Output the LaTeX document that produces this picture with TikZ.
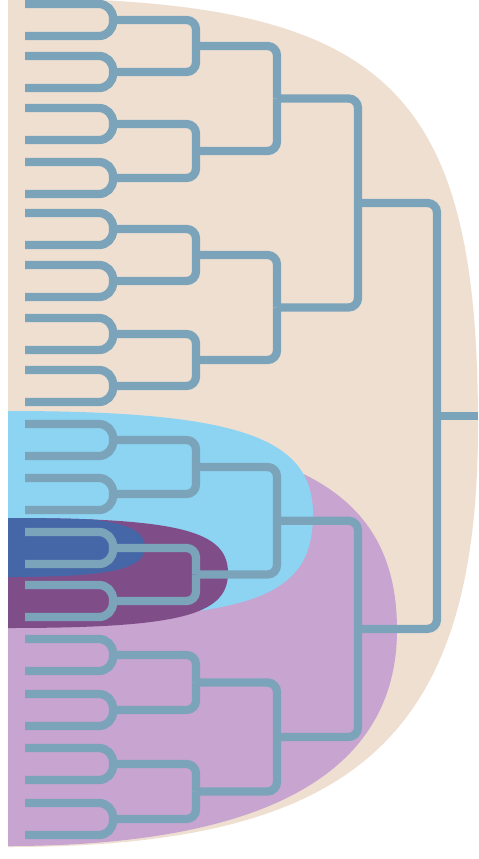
\documentclass[tikz,border=0pt]{standalone}
\usetikzlibrary{calc}
\definecolor{sand}{RGB}{239,223,209}
\definecolor{sky}{RGB}{141,212,242}
\definecolor{mauve}{RGB}{200,164,208}
\definecolor{plum}{RGB}{127,78,137}
\definecolor{deepblue}{RGB}{70,103,167}
\definecolor{stem}{RGB}{123,164,186}

\begin{document}
\begin{tikzpicture}[x=0.02cm, y=-0.02cm,
                    twig/.style={stem, line width=4.7pt, rounded corners=8pt},
                    branch/.style={stem, line width=4.7pt, rounded corners=5.4pt}]
  \useasboundingbox (0,0) rectangle (478,859);
  \clip (0,0) rectangle (478,859);
  \fill[white] (0,0) rectangle (478,859);

  % coloured groups behind the tree, largest first
  \fill[sand] (8,-2) .. controls (384,-2) and (478,83) .. (478,425)
              .. controls (478,737) and (356,847) .. (8,847) -- cycle;
  \fill[mauve] (8,430) .. controls (288,430) and (397,486) .. (397,630)
               .. controls (397,773) and (265,846) .. (8,846) -- cycle;
  \fill[sky] (8,411) .. controls (237,411) and (313,437) .. (313,514)
             .. controls (313,599) and (252,620) .. (8,620) -- cycle;
  \fill[plum] (8,518) .. controls (180,518) and (228,531) .. (228,573)
              .. controls (228,615) and (180,628) .. (8,628) -- cycle;
  \begin{scope}
    \clip (8,518) .. controls (180,518) and (228,531) .. (228,573)
          .. controls (228,615) and (180,628) .. (8,628) -- cycle;
    \fill[deepblue] (8,516) .. controls (111,516) and (145,525) .. (145,547)
                    .. controls (145,569) and (111,577) .. (8,577) -- cycle;
  \end{scope}

  % leaves, joined in pairs
  \foreach \t [count=\i] in {4,56,108,162,213,265,318,370,424,478,532,585,639,694,748,803} {
    \pgfmathtruncatemacro\j{2*\i-1}
    \pgfmathtruncatemacro\k{2*\i}
    \coordinate (l\j) at (25,\t);
    \coordinate (l\k) at (25,\t+32);
    \coordinate (a\i) at (113,\t+16);
    \draw[twig] (l\j) -| (a\i);
    \draw[twig] (l\k) -| (a\i);
  }

  % each fork sits halfway between its two children
  \foreach \lo/\hi/\n/\col in {a/b/8/196, b/c/4/277, c/d/2/358, d/e/1/437} {
    \foreach \i in {1,...,\n} {
      \pgfmathtruncatemacro\j{2*\i-1}
      \pgfmathtruncatemacro\k{2*\i}
      \path ($(\lo\j)!0.5!(\lo\k)$) coordinate (m);
      \coordinate (\hi\i) at (\col,0 |- m);
      \draw[branch] (\lo\j) -| (\hi\i);
      \draw[branch] (\lo\k) -| (\hi\i);
    }
  }
  \coordinate (root) at (478,0 |- e1);
  \draw[branch] (e1) -- (root);
\end{tikzpicture}
\end{document}
